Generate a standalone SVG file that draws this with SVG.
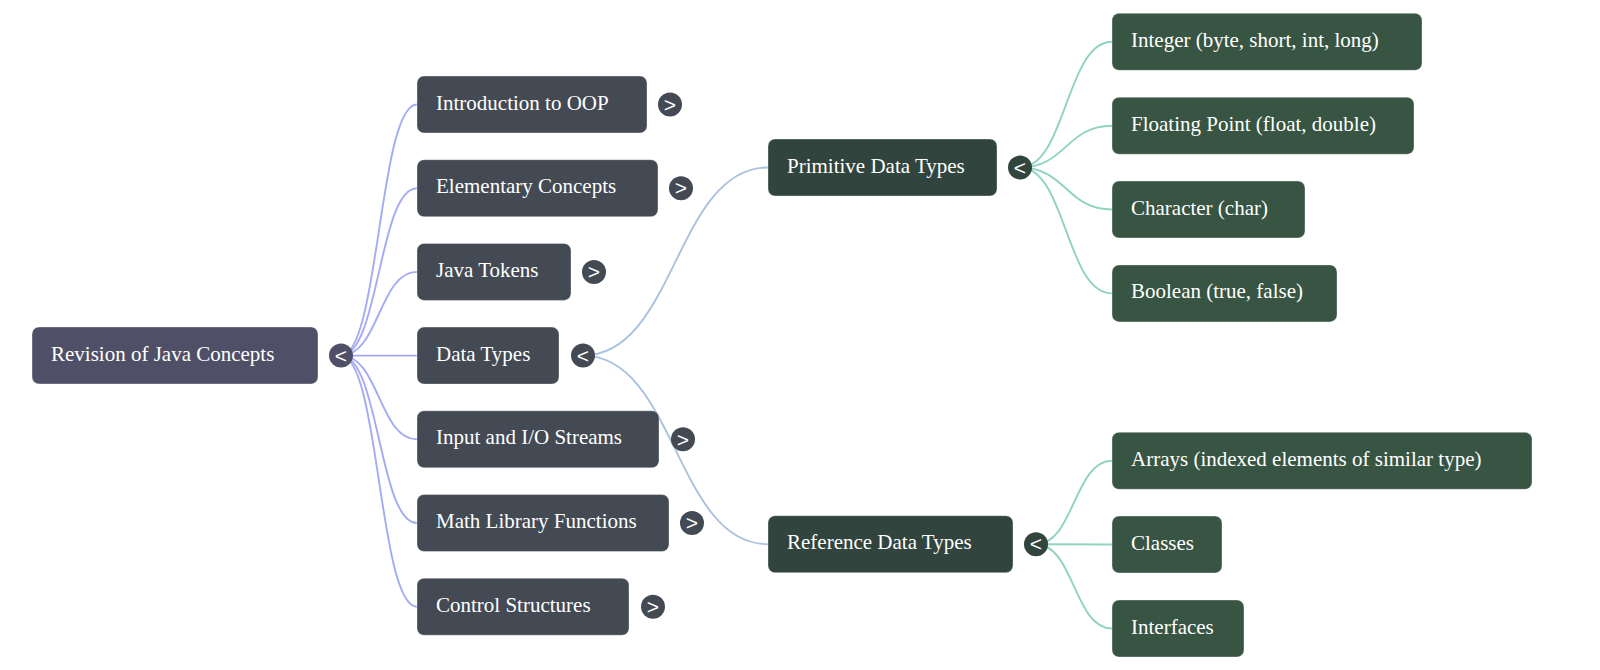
<svg xmlns="http://www.w3.org/2000/svg" width="1600" height="670" viewBox="0 0 1600 670">
<style>
.box{stroke:#ffffff;stroke-opacity:0.35;stroke-width:1}
.r0{fill:#4f5067}
.r1{fill:#434a54}
.r2{fill:#31443e}
.r3{fill:#385442}
.lbl{font-family:"Liberation Serif","Times New Roman",serif;font-size:21px;fill:#ffffff}
.tg{font-family:"Liberation Sans",Arial,sans-serif;font-size:21px;fill:#ffffff;text-anchor:middle}
.l0{fill:none;stroke:#a4abf5;stroke-width:1.9}
.l1{fill:none;stroke:#a9c2de;stroke-width:1.9}
.l2{fill:none;stroke:#8fd4be;stroke-width:1.9}
</style>
<rect width="1600" height="670" fill="#ffffff"/>
<g id="connectors">
<path class="l0" d="M341 355.6 C379 355.6 379 104.5 417 104.5"/>
<path class="l0" d="M341 355.6 C379 355.6 379 188.2 417 188.2"/>
<path class="l0" d="M341 355.6 C379 355.6 379 271.9 417 271.9"/>
<path class="l0" d="M341 355.6 L417 355.6"/>
<path class="l0" d="M341 355.6 C379 355.6 379 439.3 417 439.3"/>
<path class="l0" d="M341 355.6 C379 355.6 379 523 417 523"/>
<path class="l0" d="M341 355.6 C379 355.6 379 606.7 417 606.7"/>
<path class="l1" d="M583 355.6 C675.5 355.6 675.5 167.5 768 167.5"/>
<path class="l1" d="M583 355.6 C675.5 355.6 675.5 544.2 768 544.2"/>
<path class="l2" d="M1020 167.5 C1066 167.5 1066 41.8 1112 41.8"/>
<path class="l2" d="M1020 167.5 C1066 167.5 1066 125.7 1112 125.7"/>
<path class="l2" d="M1020 167.5 C1066 167.5 1066 209.5 1112 209.5"/>
<path class="l2" d="M1020 167.5 C1066 167.5 1066 293.4 1112 293.4"/>
<path class="l2" d="M1036 544.2 C1074 544.2 1074 460.8 1112 460.8"/>
<path class="l2" d="M1036 544.2 L1112 544.5"/>
<path class="l2" d="M1036 544.2 C1074 544.2 1074 628.5 1112 628.5"/>
</g>
<g id="root">
<rect class="box r0" x="32" y="327" width="286" height="57" rx="7"/>
<text class="lbl" x="51" y="360.5">Revision of Java Concepts</text>
<circle class="r0" cx="341" cy="355.6" r="12"/>
<text class="tg" x="341" y="362.8">&lt;</text>
</g>
<g id="n-intro">
<rect class="box r1" x="417" y="76" width="230" height="57" rx="7"/>
<text class="lbl" x="436" y="109.5">Introduction to OOP</text>
<circle class="r1" cx="670" cy="104.5" r="12"/>
<text class="tg" x="670" y="111.7">&gt;</text>
</g>
<g id="n-elem">
<rect class="box r1" x="417" y="159.7" width="241" height="57" rx="7"/>
<text class="lbl" x="436" y="193.2">Elementary Concepts</text>
<circle class="r1" cx="681" cy="188.2" r="12"/>
<text class="tg" x="681" y="195.4">&gt;</text>
</g>
<g id="n-tokens">
<rect class="box r1" x="417" y="243.4" width="154" height="57" rx="7"/>
<text class="lbl" x="436" y="276.9">Java Tokens</text>
<circle class="r1" cx="594" cy="271.9" r="12"/>
<text class="tg" x="594" y="279.1">&gt;</text>
</g>
<g id="n-datatypes">
<rect class="box r1" x="417" y="327.1" width="142" height="57" rx="7"/>
<text class="lbl" x="436" y="360.6">Data Types</text>
<circle class="r1" cx="583" cy="355.6" r="12"/>
<text class="tg" x="583" y="362.8">&lt;</text>
</g>
<g id="n-input">
<rect class="box r1" x="417" y="410.8" width="242" height="57" rx="7"/>
<text class="lbl" x="436" y="444.3">Input and I/O Streams</text>
<circle class="r1" cx="683" cy="439.3" r="12"/>
<text class="tg" x="683" y="446.5">&gt;</text>
</g>
<g id="n-math">
<rect class="box r1" x="417" y="494.5" width="252" height="57" rx="7"/>
<text class="lbl" x="436" y="528">Math Library Functions</text>
<circle class="r1" cx="692" cy="523" r="12"/>
<text class="tg" x="692" y="530.2">&gt;</text>
</g>
<g id="n-control">
<rect class="box r1" x="417" y="578.2" width="212" height="57" rx="7"/>
<text class="lbl" x="436" y="611.7">Control Structures</text>
<circle class="r1" cx="653" cy="606.7" r="12"/>
<text class="tg" x="653" y="613.9">&gt;</text>
</g>
<g id="n-primitive">
<rect class="box r2" x="768" y="139" width="229" height="57" rx="7"/>
<text class="lbl" x="787" y="172.5">Primitive Data Types</text>
<circle class="r2" cx="1020" cy="167.5" r="12"/>
<text class="tg" x="1020" y="174.7">&lt;</text>
</g>
<g id="n-reference">
<rect class="box r2" x="768" y="515.7" width="245" height="57" rx="7"/>
<text class="lbl" x="787" y="549.2">Reference Data Types</text>
<circle class="r2" cx="1036" cy="544.2" r="12"/>
<text class="tg" x="1036" y="551.4">&lt;</text>
</g>
<g id="n-integer">
<rect class="box r3" x="1112" y="13.3" width="310" height="57" rx="7"/>
<text class="lbl" x="1131" y="46.8">Integer (byte, short, int, long)</text>
</g>
<g id="n-float">
<rect class="box r3" x="1112" y="97.2" width="302" height="57" rx="7"/>
<text class="lbl" x="1131" y="130.7">Floating Point (float, double)</text>
</g>
<g id="n-char">
<rect class="box r3" x="1112" y="181" width="193" height="57" rx="7"/>
<text class="lbl" x="1131" y="214.5">Character (char)</text>
</g>
<g id="n-bool">
<rect class="box r3" x="1112" y="264.9" width="225" height="57" rx="7"/>
<text class="lbl" x="1131" y="298.4">Boolean (true, false)</text>
</g>
<g id="n-arrays">
<rect class="box r3" x="1112" y="432.3" width="420" height="57" rx="7"/>
<text class="lbl" x="1131" y="465.8">Arrays (indexed elements of similar type)</text>
</g>
<g id="n-classes">
<rect class="box r3" x="1112" y="516" width="110" height="57" rx="7"/>
<text class="lbl" x="1131" y="549.5">Classes</text>
</g>
<g id="n-interfaces">
<rect class="box r3" x="1112" y="600" width="132" height="57" rx="7"/>
<text class="lbl" x="1131" y="633.5">Interfaces</text>
</g>
</svg>
